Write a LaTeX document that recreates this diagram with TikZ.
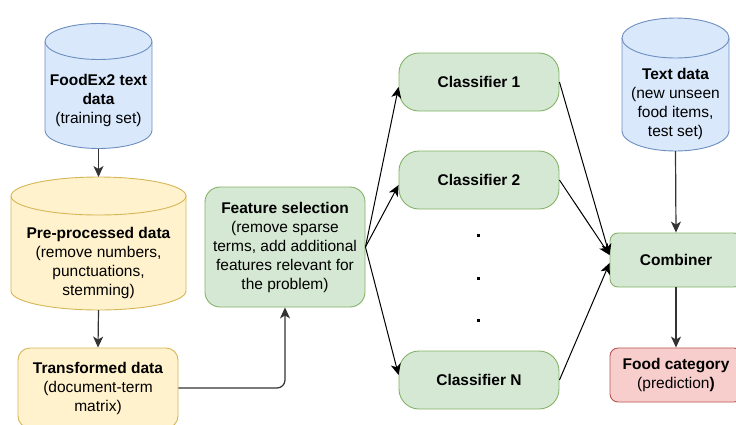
\documentclass[tikz,border=0pt]{standalone}
\usepackage{fontspec}
\setmainfont{Liberation Sans}
\usetikzlibrary{calc,arrows.meta}

\definecolor{bluefill}{HTML}{DAE8FC}
\definecolor{blueline}{HTML}{6C8EBF}
\definecolor{yellowfill}{HTML}{FFF2CC}
\definecolor{yellowline}{HTML}{D6B656}
\definecolor{greenfill}{HTML}{D5E8D4}
\definecolor{greenline}{HTML}{82B366}
\definecolor{redfill}{HTML}{F8CECC}
\definecolor{redline}{HTML}{B85450}

% database drum around a bounding node: #1 node, #2 x radius, #3 y radius, #4 fill, #5 line
\newcommand{\drum}[5]{%
  \draw[fill=#4, draw=#5] ($(#1.north west)+(0,#3)$) -- ($(#1.south west)+(0,-#3)$)
    arc[start angle=180, end angle=0, x radius=#2, y radius=#3]
    -- ($(#1.north east)+(0,#3)$)
    arc[start angle=0, end angle=-180, x radius=#2, y radius=#3] -- cycle;
  \draw[draw=#5] ($(#1.north west)+(0,#3)$)
    arc[start angle=180, end angle=0, x radius=#2, y radius=#3];
}

\begin{document}
\begin{tikzpicture}[x=1pt, y=-1pt, line width=0.9pt,
  font=\fontsize{15.5}{19}\selectfont,
  txt/.style={align=center, inner sep=0pt},
  hull/.style={inner sep=0pt, outer sep=0pt},
  blk/.style={draw, rounded corners=#1, inner sep=0pt, align=center},
  dotmark/.style={fill=black, minimum size=3pt, inner sep=0pt},
  flow/.style={draw=black!80, line width=1.2pt, -{Stealth[length=11pt, width=10pt, inset=3pt]}},
  fan/.style={line width=1pt, -{Stealth[length=11pt, width=10pt, inset=3pt]}}]
  \clip (0,0) rectangle (736,424);
  % training data side: raw text -> pre-processing -> term matrix
  \node[hull, minimum width=107, minimum height=125] (raw) at (98.5,86) {};
  \drum{raw}{53.5}{18}{bluefill}{blueline}
  \node[txt] (rawtxt) at (98.5,100) {\textbf{FoodEx2 text}\\\textbf{data}\\(training set)};
  \node[hull, minimum width=175, minimum height=133] (prep) at (98.5,243.5) {};
  \drum{prep}{87.5}{19}{yellowfill}{yellowline}
  \node[txt] (preptxt) at (98.5,262.5) {\textbf{Pre-processed data}\\(remove numbers,\\punctuations,\\stemming)};
  \node[blk=12pt, fill=yellowfill, draw=yellowline, minimum width=160, minimum height=80] (trans) at (98,388)
    {\textbf{Transformed data}\\(document-term\\matrix)};
  \node[blk=15pt, fill=greenfill, draw=greenline, minimum width=160, minimum height=120] (feat) at (285,247)
    {\textbf{Feature selection}\\(remove sparse\\terms, add additional\\features relevant for\\the problem)};
  % ensemble of classifiers
  \node[blk=20pt, fill=greenfill, draw=greenline, minimum width=160, minimum height=58] (clf1) at (479,82) {\textbf{Classifier 1}};
  \node[blk=20pt, fill=greenfill, draw=greenline, minimum width=160, minimum height=58] (clf2) at (479,180) {\textbf{Classifier 2}};
  \node[blk=20pt, fill=greenfill, draw=greenline, minimum width=160, minimum height=58] (clfN) at (479,380) {\textbf{Classifier N}};
  \node[dotmark] (gap1) at (478,235) {};
  \node[dotmark] (gap2) at (478,278) {};
  \node[dotmark] (gap3) at (478,320) {};
  % test data and output
  \node[hull, minimum width=107, minimum height=133] (test) at (675.5,84.5) {};
  \drum{test}{53.5}{20}{bluefill}{blueline}
  \node[txt] (testtxt) at (675.5,103.5) {\textbf{Text data}\\(new unseen\\food items,\\test set)};
  \node[blk=8pt, fill=greenfill, draw=greenline, minimum width=132, minimum height=54] (comb) at (676,260) {\textbf{Combiner}};
  \node[blk=8pt, fill=redfill, draw=redline, minimum width=132, minimum height=54] (cat) at (676,375)
    {\textbf{Food category}\\(prediction\textbf{)}};
  % connectors
  \draw[flow] (raw.south) -- (prep.north);
  \draw[flow] (prep.south) -- (trans.north);
  \draw[flow, rounded corners=8pt] (trans.east) -| (feat.south);
  \draw[fan] (feat.east) -- ([yshift=-5pt]clf1.west);
  \draw[fan] (feat.east) -- ([yshift=-5pt]clf2.west);
  \draw[fan] (feat.east) -- ([yshift=5pt]clfN.west);
  \draw[fan] (clf1.east) -- ([yshift=5pt]comb.west);
  \draw[fan] (clf2.east) -- ([yshift=5pt]comb.west);
  \draw[fan] (clfN.east) -- ([yshift=-3pt]comb.west);
  \draw[flow] (test.south) -- (comb.north);
  \draw[flow] (comb.south) -- (cat.north);
\end{tikzpicture}
\end{document}
